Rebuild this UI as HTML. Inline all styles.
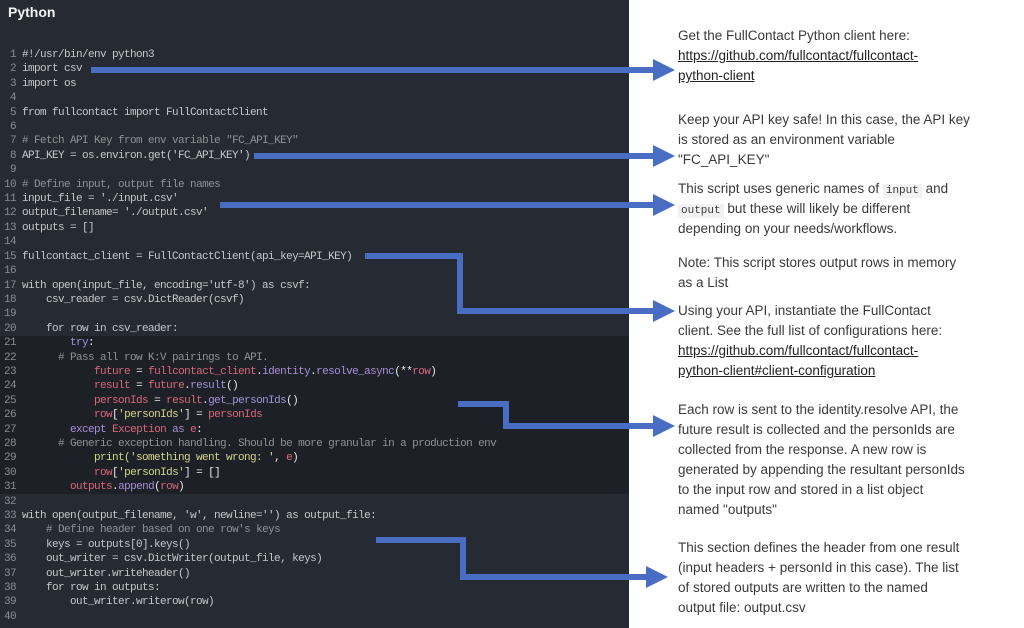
<!DOCTYPE html>
<html><head><meta charset="utf-8"><style>
html,body{margin:0;padding:0;width:1024px;height:628px;overflow:hidden;background:#fff;}
#dark{position:absolute;left:0;top:0;width:629px;height:628px;background:#262b33;}
#hl{position:absolute;left:0;top:336px;width:629px;height:158px;background:#1d2026;}
#title{position:absolute;left:8px;top:4px;font:bold 14px "Liberation Sans",sans-serif;color:#f2f2f2;}
pre{position:absolute;left:4px;top:48px;margin:0;font:11px/14.4px "Liberation Mono",monospace;letter-spacing:-0.6px;color:#c4c6ca;white-space:pre;}
.n{color:#8a8d93;}
.r{color:#d9677a;}.p{color:#a98fd6;}.c{color:#8e9196;}.y{color:#d6d38a;}.w{color:#e8e8e8;}
.t{position:absolute;left:678px;font:13.5px/20px "Liberation Sans",sans-serif;color:#3a3a3a;}
.t a{color:#222;text-decoration:underline;}
code{font:11px "Liberation Mono",monospace;background:#f2f2f2;padding:1px 3px;}
svg{position:absolute;left:0;top:0;}
</style></head><body>
<div id="dark"></div><div id="hl"></div>
<div id="title">Python</div>
<pre><span class="n"> 1</span> #!/usr/bin/env python3
<span class="n"> 2</span> import csv
<span class="n"> 3</span> import os
<span class="n"> 4</span>
<span class="n"> 5</span> from fullcontact import FullContactClient
<span class="n"> 6</span>
<span class="n"> 7</span> <span class="c"># Fetch API Key from env variable "FC_API_KEY"</span>
<span class="n"> 8</span> API_KEY = os.environ.get('FC_API_KEY')
<span class="n"> 9</span>
<span class="n">10</span> <span class="c"># Define input, output file names</span>
<span class="n">11</span> input_file = './input.csv'
<span class="n">12</span> output_filename= './output.csv'
<span class="n">13</span> outputs = []
<span class="n">14</span>
<span class="n">15</span> fullcontact_client = FullContactClient(api_key=API_KEY)
<span class="n">16</span>
<span class="n">17</span> with open(input_file, encoding='utf-8') as csvf:
<span class="n">18</span>     csv_reader = csv.DictReader(csvf)
<span class="n">19</span>
<span class="n">20</span>     for row in csv_reader:
<span class="n">21</span>         <span class="p">try</span><span class="w">:</span>
<span class="n">22</span>       <span class="c"># Pass all row K:V pairings to API.</span>
<span class="n">23</span>             <span class="r">future</span> <span class="w">=</span> <span class="r">fullcontact_client</span><span class="w">.</span><span class="p">identity</span><span class="w">.</span><span class="p">resolve_async</span><span class="w">(**</span><span class="r">row</span><span class="w">)</span>
<span class="n">24</span>             <span class="r">result</span> <span class="w">=</span> <span class="r">future</span><span class="w">.</span><span class="p">result</span><span class="w">()</span>
<span class="n">25</span>             <span class="r">personIds</span> <span class="w">=</span> <span class="r">result</span><span class="w">.</span><span class="p">get_personIds</span><span class="w">()</span>
<span class="n">26</span>             <span class="r">row</span><span class="w">[</span><span class="y">'personIds'</span><span class="w">] =</span> <span class="r">personIds</span>
<span class="n">27</span>         <span class="p">except</span> <span class="r">Exception</span> <span class="p">as</span> <span class="r">e</span><span class="w">:</span>
<span class="n">28</span>       <span class="c"># Generic exception handling. Should be more granular in a production env</span>
<span class="n">29</span>             <span class="y">print('something went wrong: '</span><span class="w">,</span> <span class="r">e</span><span class="w">)</span>
<span class="n">30</span>             <span class="r">row</span><span class="w">[</span><span class="y">'personIds'</span><span class="w">] = []</span>
<span class="n">31</span>         <span class="r">outputs</span><span class="w">.</span><span class="p">append</span><span class="w">(</span><span class="r">row</span><span class="w">)</span>
<span class="n">32</span>
<span class="n">33</span> with open(output_filename, 'w', newline='') as output_file:
<span class="n">34</span>     <span class="c"># Define header based on one row's keys</span>
<span class="n">35</span>     keys = outputs[0].keys()
<span class="n">36</span>     out_writer = csv.DictWriter(output_file, keys)
<span class="n">37</span>     out_writer.writeheader()
<span class="n">38</span>     for row in outputs:
<span class="n">39</span>         out_writer.writerow(row)
<span class="n">40</span></pre>

<div class="t" style="top:26px">Get the FullContact Python client here:<br><a>https://github.com/fullcontact/fullcontact-<br>python-client</a></div>
<div class="t" style="top:110px">Keep your API key safe! In this case, the API key<br>is stored as an environment variable<br>"FC_API_KEY"</div>
<div class="t" style="top:179px">This script uses generic names of <code>input</code> and<br><code>output</code> but these will likely be different<br>depending on your needs/workflows.</div>
<div class="t" style="top:253px">Note: This script stores output rows in memory<br>as a List</div>
<div class="t" style="top:301px">Using your API, instantiate the FullContact<br>client. See the full list of configurations here:<br><a>https://github.com/fullcontact/fullcontact-<br>python-client#client-configuration</a></div>
<div class="t" style="top:400px">Each row is sent to the identity.resolve API, the<br>future result is collected and the personIds are<br>collected from the response. A new row is<br>generated by appending the resultant personIds<br>to the input row and stored in a list object<br>named "outputs"</div>
<div class="t" style="top:538px">This section defines the header from one result<br>(input headers + personId in this case). The list<br>of stored outputs are written to the named<br>output file: output.csv</div>

<svg width="1024" height="628">
<g fill="none" stroke="#4a6dc4" stroke-width="6">
<polyline points="91,70 655,70"/>
<polyline points="254,156 655,156"/>
<polyline points="220,205 655,205"/>
<polyline points="365,256 460,256 460,311 655,311"/>
<polyline points="458,404 506,404 506,426 655,426"/>
<polyline points="376,540 463,540 463,577 648,577"/>
</g>
<g fill="#4a6dc4">
<polygon points="653,59 675,70 653,81"/>
<polygon points="653,145 675,156 653,167"/>
<polygon points="653,194 675,205 653,216"/>
<polygon points="653,300 675,311 653,322"/>
<polygon points="653,415 675,426 653,437"/>
<polygon points="646,566 668,577 646,588"/>
</g>
</svg>
</body></html>
